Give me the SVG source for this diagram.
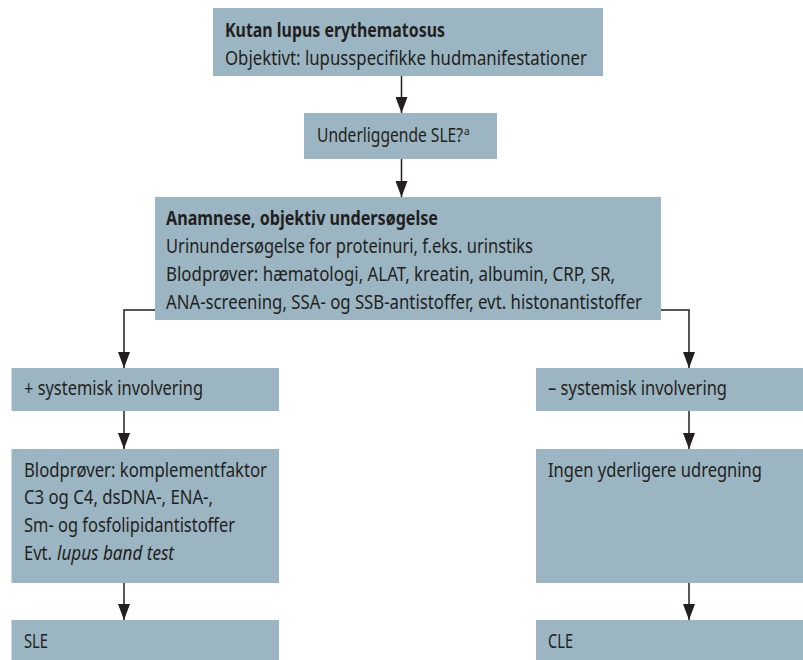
<svg xmlns="http://www.w3.org/2000/svg" width="803" height="660" viewBox="0 0 803 660">
<style>
.box{fill:#9bb5c3}
text{font-family:"Noto Sans","Open Sans","Liberation Sans",sans-serif;font-size:19px;fill:#231f20}
.b{font-weight:bold}
.i{font-style:italic}
.sup{font-size:10px}
.ln{fill:none;stroke:#231f20;stroke-width:1.5}
</style>
<defs>
<marker id="ah" markerWidth="16" markerHeight="12" refX="16" refY="6" orient="auto" markerUnits="userSpaceOnUse" viewBox="0 0 16 12">
<path d="M0,0 L16,6 L0,12 Z" fill="#231f20"/>
</marker>
</defs>
<rect width="803" height="660" fill="#fff"/>
<g id="connectors">
<path class="ln" d="M401.5,76 V113" marker-end="url(#ah)"/>
<path class="ln" d="M401.5,159 V197" marker-end="url(#ah)"/>
<path class="ln" d="M155,310 H124 V368" marker-end="url(#ah)"/>
<path class="ln" d="M661,310 H689 V368" marker-end="url(#ah)"/>
<path class="ln" d="M124,411 V449" marker-end="url(#ah)"/>
<path class="ln" d="M689,411 V449" marker-end="url(#ah)"/>
<path class="ln" d="M124,583 V620" marker-end="url(#ah)"/>
<path class="ln" d="M689,583 V620" marker-end="url(#ah)"/>
</g>
<g id="n1">
<rect class="box" x="213" y="8" width="390" height="68"/>
<text class="b" x="225" y="37" textLength="220" lengthAdjust="spacingAndGlyphs">Kutan lupus erythematosus</text>
<text x="225" y="65" textLength="362" lengthAdjust="spacingAndGlyphs">Objektivt: lupusspecifikke hudmanifestationer</text>
</g>
<g id="n2">
<rect class="box" x="304" y="113" width="193" height="46"/>
<text x="317" y="142"><tspan textLength="146" lengthAdjust="spacingAndGlyphs">Underliggende SLE?</tspan><tspan class="sup" x="464" y="135">a</tspan></text>
</g>
<g id="n3">
<rect class="box" x="155" y="197" width="506" height="123"/>
<text class="b" x="166" y="225" textLength="272" lengthAdjust="spacingAndGlyphs">Anamnese, objektiv undersøgelse</text>
<text x="166" y="253" textLength="367" lengthAdjust="spacingAndGlyphs">Urinundersøgelse for proteinuri, f.eks. urinstiks</text>
<text x="166" y="281" textLength="449" lengthAdjust="spacingAndGlyphs">Blodprøver: hæmatologi, ALAT, kreatin, albumin, CRP, SR,</text>
<text x="166" y="309" textLength="476" lengthAdjust="spacingAndGlyphs">ANA-screening, SSA- og SSB-antistoffer, evt. histonantistoffer</text>
</g>
<g id="n4">
<rect class="box" x="11.5" y="368" width="267.5" height="43"/>
<text x="24" y="395" textLength="179" lengthAdjust="spacingAndGlyphs">+ systemisk involvering</text>
</g>
<g id="n5">
<rect class="box" x="536" y="368" width="267" height="43"/>
<text x="548" y="395" textLength="179" lengthAdjust="spacingAndGlyphs">– systemisk involvering</text>
</g>
<g id="n6">
<rect class="box" x="11.5" y="449" width="267.5" height="134"/>
<text x="24" y="477" textLength="243" lengthAdjust="spacingAndGlyphs">Blodprøver: komplementfaktor</text>
<text x="24" y="504" textLength="189" lengthAdjust="spacingAndGlyphs">C3 og C4, dsDNA-, ENA-,</text>
<text x="24" y="532" textLength="211" lengthAdjust="spacingAndGlyphs">Sm- og fosfolipidantistoffer</text>
<text x="24" y="560"><tspan textLength="28" lengthAdjust="spacingAndGlyphs">Evt.</tspan><tspan class="i" x="57" textLength="117" lengthAdjust="spacingAndGlyphs">lupus band test</tspan></text>
</g>
<g id="n7">
<rect class="box" x="536" y="449" width="267" height="134"/>
<text x="548" y="477" textLength="214" lengthAdjust="spacingAndGlyphs">Ingen yderligere udregning</text>
</g>
<g id="n8">
<rect class="box" x="11.5" y="620" width="267.5" height="40"/>
<text x="24" y="648" textLength="24" lengthAdjust="spacingAndGlyphs">SLE</text>
</g>
<g id="n9">
<rect class="box" x="536" y="620" width="267" height="40"/>
<text x="548" y="648" textLength="25" lengthAdjust="spacingAndGlyphs">CLE</text>
</g>
</svg>
